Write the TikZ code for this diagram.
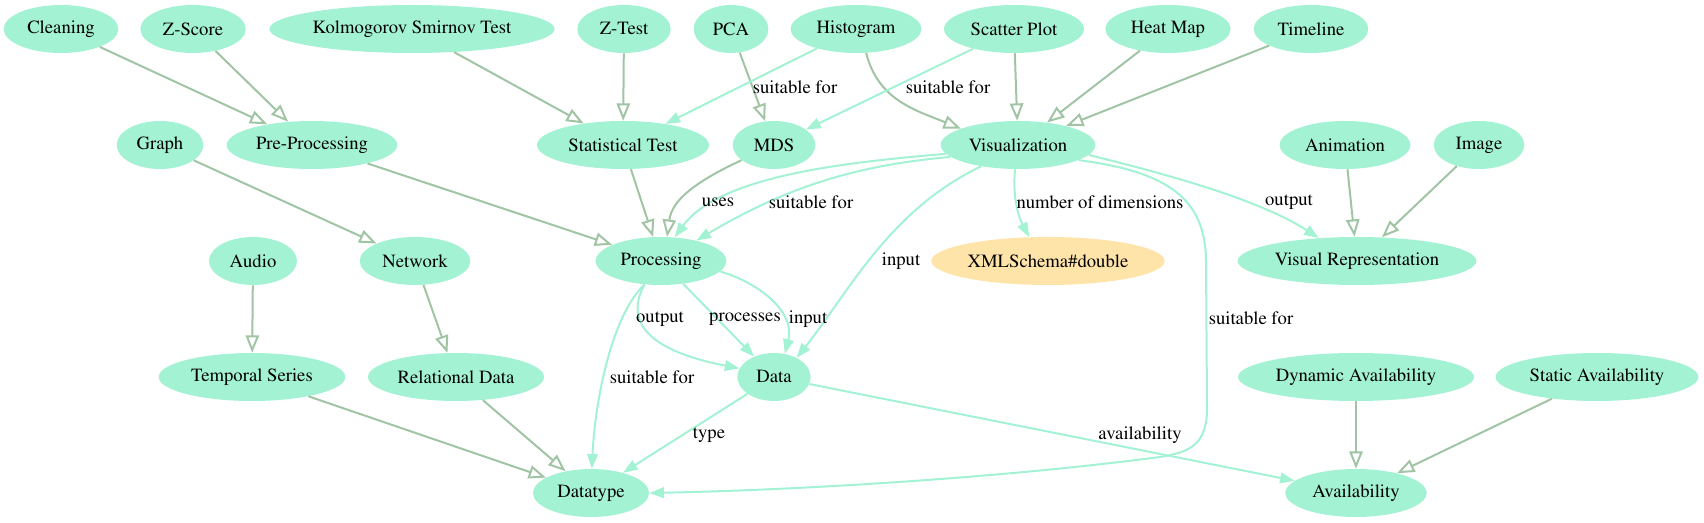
\documentclass[tikz,border=0pt]{standalone}
\usepackage[T1]{fontenc}
\usepackage{times}
\usetikzlibrary{shapes.geometric}
\usetikzlibrary{arrows.meta}
\definecolor{custom-mint}{RGB}{163, 242, 212}
\definecolor{custom-sage}{RGB}{160, 196, 164}
\definecolor{custom-sand}{RGB}{255, 228, 170}

\begin{document}
\begin{tikzpicture}[x=0.75pt, y=-0.75pt,
    every node/.style={font=\fontsize{14}{16}\selectfont},
    cls/.style={ellipse, fill=custom-mint, inner sep=0pt, minimum height=36pt},
    lit/.style={ellipse, fill=custom-sand, inner sep=0pt, minimum height=36pt},
    isa/.style={draw=custom-sage, line width=1.5pt, -{Triangle[open, length=13pt, width=10pt]}},
    rel/.style={draw=custom-mint, line width=1.5pt, -{Triangle[length=11pt, width=8pt]}},
    lbl/.style={inner sep=0pt}]
\useasboundingbox (0,0) rectangle (1704,523);
% classes
\node[cls, minimum width=86pt] (cleaning) at (61,29) {Cleaning};
\node[cls, minimum width=79pt] (zscore) at (193,29) {Z-Score};
\node[cls, minimum width=214pt] (ks) at (412,29) {Kolmogorov Smirnov Test};
\node[cls, minimum width=70pt] (ztest) at (624,29) {Z-Test};
\node[cls, minimum width=56pt] (pca) at (731,29) {PCA};
\node[cls, minimum width=98pt] (histogram) at (856,29) {Histogram};
\node[cls, minimum width=105pt] (scatter) at (1014,29) {Scatter Plot};
\node[cls, minimum width=94pt] (heatmap) at (1168,29) {Heat Map};
\node[cls, minimum width=86pt] (timeline) at (1311,29) {Timeline};
\node[cls, minimum width=65pt] (graph) at (160,145) {Graph};
\node[cls, minimum width=128pt] (preproc) at (312,145) {Pre-Processing};
\node[cls, minimum width=129pt] (stattest) at (623,145) {Statistical Test};
\node[cls, minimum width=62pt] (mds) at (774,145) {MDS};
\node[cls, minimum width=116pt] (viz) at (1018,145) {Visualization};
\node[cls, minimum width=98pt] (animation) at (1345,145) {Animation};
\node[cls, minimum width=68pt] (image) at (1479,145) {Image};
\node[cls, minimum width=66pt] (audio) at (253,261) {Audio};
\node[cls, minimum width=83pt] (network) at (415,261) {Network};
\node[cls, minimum width=98pt] (processing) at (661,261) {Processing};
\node[lit, minimum width=175pt] (xml) at (1048,261) {XMLSchema\#double};
\node[cls, minimum width=179pt] (visrep) at (1357,261) {Visual Representation};
\node[cls, minimum width=140pt] (temporal) at (252,377) {Temporal Series};
\node[cls, minimum width=132pt] (relational) at (456,377) {Relational Data};
\node[cls, minimum width=55pt] (data) at (774,377) {Data};
\node[cls, minimum width=177pt] (dynavail) at (1356,377) {Dynamic Availability};
\node[cls, minimum width=152pt] (statavail) at (1597,377) {Static Availability};
\node[cls, minimum width=87pt] (datatype) at (591,493) {Datatype};
\node[cls, minimum width=106pt] (availability) at (1356,493) {Availability};
% subclass edges
\draw[isa] (cleaning) -- (preproc);
\draw[isa] (zscore) -- (preproc);
\draw[isa] (ks) -- (stattest);
\draw[isa] (ztest) -- (stattest);
\draw[isa] (pca) -- (mds);
\draw[isa] (histogram.-67) .. controls (878,100) and (915,110) .. (viz.164);
\draw[isa] (scatter) -- (viz);
\draw[isa] (heatmap) -- (viz);
\draw[isa] (timeline) -- (viz);
\draw[isa] (graph) -- (network);
\draw[isa] (preproc) -- (processing);
\draw[isa] (stattest) -- (processing);
\draw[isa] (mds.-155) .. controls (695,182) and (672,200) .. (processing.76);
\draw[isa] (animation) -- (visrep);
\draw[isa] (image) -- (visrep);
\draw[isa] (audio) -- (temporal);
\draw[isa] (network) -- (relational);
\draw[isa] (temporal) -- (datatype);
\draw[isa] (relational) -- (datatype);
\draw[isa] (dynavail) -- (availability);
\draw[isa] (statavail) -- (availability);
% property edges
\draw[rel] (histogram) -- (stattest);
\draw[rel] (scatter) -- (mds);
\draw[rel] (viz.-173) .. controls (850,162) and (720,175) .. (processing.60);
\draw[rel] (viz.-170) .. controls (860,165) and (790,185) .. (processing.30);
\draw[rel] (viz.-150) .. controls (890,210) and (850,290) .. (data.40);
\draw[rel] (viz.-97) .. controls (1012,200) and (1020,220) .. (xml.128);
\draw[rel] (viz.-8) .. controls (1170,175) and (1260,200) .. (visrep.149);
\draw[rel] (viz.-14) .. controls (1170,172) and (1205,200) .. (1206,260) -- (1207,405)
    .. controls (1208,445) and (1190,452) .. (1160,457)
    .. controls (1000,478) and (800,490) .. (datatype.east);
\draw[rel] (processing.-125) .. controls (625,320) and (645,350) .. (data.166);
\draw[rel] (processing) -- (data);
\draw[rel] (processing.-10) .. controls (765,285) and (795,315) .. (data.65);
\draw[rel] (processing.-125) .. controls (612,315) and (595,400) .. (datatype.88);
\draw[rel] (data) -- (datatype);
\draw[rel] (data) -- (availability);
% edge labels
\node[lbl] (l-hist) at (795,87) {suitable for};
\node[lbl] (l-scat) at (948,87) {suitable for};
\node[lbl] (l-uses) at (718,202) {uses};
\node[lbl] (l-vizproc) at (811,202) {suitable for};
\node[lbl] (l-vizin) at (901,261) {input};
\node[lbl] (l-dims) at (1100,202) {number of dimensions};
\node[lbl] (l-vizout) at (1289,202) {output};
\node[lbl] (l-vizdt) at (1251,318) {suitable for};
\node[lbl] (l-out) at (660,319) {output};
\node[lbl] (l-proc) at (745,319) {processes};
\node[lbl] (l-in) at (808,319) {input};
\node[lbl] (l-procdt) at (652,377) {suitable for};
\node[lbl] (l-type) at (709,435) {type};
\node[lbl] (l-avail) at (1140,435) {availability};
\end{tikzpicture}
\end{document}
